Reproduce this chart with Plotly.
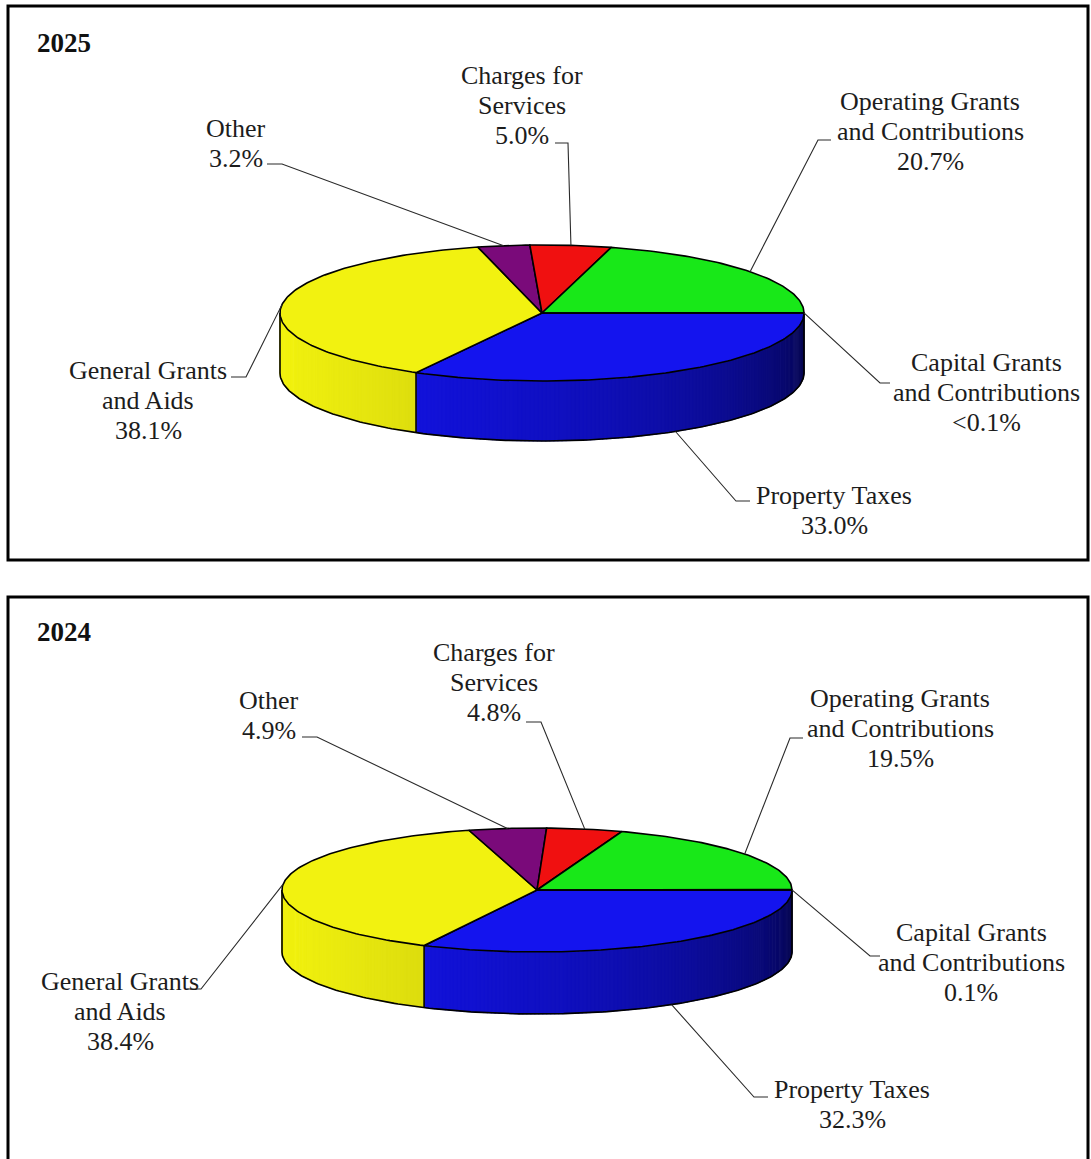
import numpy as np
import plotly.graph_objects as go

# ---- data -------------------------------------------------------------
categories = [
    "Property Taxes",
    "General Grants and Aids",
    "Other",
    "Charges for Services",
    "Operating Grants and Contributions",
    "Capital Grants and Contributions",
]
label_lines = [
    ["Property Taxes"],
    ["General Grants", "and Aids"],
    ["Other"],
    ["Charges for", "Services"],
    ["Operating Grants", "and Contributions"],
    ["Capital Grants", "and Contributions"],
]
values_2025 = [33.0, 38.1, 3.2, 5.0, 20.7, 0.05]
pct_text_2025 = ["33.0%", "38.1%", "3.2%", "5.0%", "20.7%", "<0.1%"]
values_2024 = [32.3, 38.4, 4.9, 4.8, 19.5, 0.1]
pct_text_2024 = ["32.3%", "38.4%", "4.9%", "4.8%", "19.5%", "0.1%"]

slice_colors = [(20, 20, 238), (242, 242, 16), (122, 10, 122),
                (240, 16, 16), (24, 232, 24), (0, 128, 128)]

FONT = "Liberation Serif"
TEXT_COLOR = "#1c1c1c"
LINE_GAP = 30

# ---- layout of the two panels (pixel space) ----------------------------
panels = [
    dict(year="2025", values=values_2025, pcts=pct_text_2025,
         cx=542, cy=313, a=262, b=68, depth=60,
         title=(35, 43), frame=(8, 6, 1088, 560),
         # label centre x, first-line y, tick start, tick elbow
         labels=[
             (834, 495, (750, 501), (736, 501)),
             (148, 370, (231, 377), (246, 377)),
             (236, 128, (267, 164), (282, 164)),
             (522, 75, (555, 143), (568, 143)),
             (930, 101, (831, 140), (818, 140)),
             (986, 362, (890, 383), (880, 383)),
         ]),
    dict(year="2024", values=values_2024, pcts=pct_text_2024,
         cx=537, cy=890, a=255, b=62, depth=62,
         title=(35, 632), frame=(8, 597, 1088, 1165),
         labels=[
             (852, 1089, (768, 1097), (754, 1097)),
             (120, 981, (187, 989), (201, 989)),
             (269, 700, (302, 737), (317, 737)),
             (494, 652, (526, 722), (541, 722)),
             (900, 698, (803, 738), (790, 738)),
             (971, 932, (880, 956), (870, 956)),
         ]),
]


def rgb(c, f=1.0):
    return "rgb(%d,%d,%d)" % tuple(int(max(0, min(255, v * f))) for v in c)


def pt(p, t_deg, drop=0.0):
    t = np.radians(t_deg)
    return p["cx"] + p["a"] * np.cos(t), p["cy"] + p["b"] * np.sin(t) + drop


def side_shade(t_deg):
    u = 1.0 - t_deg / 180.0
    return 0.3 + 0.7 * (1.0 - u * u)


fig = go.Figure()
annotations = []
shapes = []

for p in panels:
    vals = np.array(p["values"], dtype=float)
    edges = np.concatenate([[0.0], np.cumsum(vals)]) / vals.sum() * 360.0
    d = p["depth"]

    # side wall (front half only), shaded by angle
    for i in range(len(vals)):
        lo, hi = max(edges[i], 0.0), min(edges[i + 1], 180.0)
        if hi <= lo:
            continue
        ts = np.linspace(lo, hi, max(2, int((hi - lo) / 0.9) + 2))
        for t1, t2 in zip(ts[:-1], ts[1:]):
            arc = np.linspace(t1, min(t2 + 0.3, hi), 4)
            top = [pt(p, t) for t in arc]
            bot = [pt(p, t, d) for t in arc[::-1]]
            poly = top + bot + [top[0]]
            col = rgb(slice_colors[i], side_shade((t1 + t2) / 2))
            fig.add_trace(go.Scatter(
                x=[q[0] for q in poly], y=[q[1] for q in poly],
                mode="lines", fill="toself", fillcolor=col,
                line=dict(color=col, width=0.5), hoverinfo="skip",
                showlegend=False))

    # side outline: bottom rim and vertical edges
    arc = np.linspace(0, 180, 181)
    rim = [pt(p, t, d) for t in arc]
    fig.add_trace(go.Scatter(x=[q[0] for q in rim], y=[q[1] for q in rim],
                             mode="lines", line=dict(color="black", width=1.6),
                             hoverinfo="skip", showlegend=False))
    vert = [0.0, 180.0] + [e for e in edges if 0 < e < 180]
    for t in vert:
        a0, a1 = pt(p, t), pt(p, t, d)
        fig.add_trace(go.Scatter(x=[a0[0], a1[0]], y=[a0[1], a1[1]],
                                 mode="lines", line=dict(color="black", width=1.6),
                                 hoverinfo="skip", showlegend=False))

    # top face wedges
    for i in range(len(vals)):
        s, e = edges[i], edges[i + 1]
        arc = np.linspace(s, e, max(2, int(e - s) + 2))
        poly = [(p["cx"], p["cy"])] + [pt(p, t) for t in arc] + [(p["cx"], p["cy"])]
        fig.add_trace(go.Scatter(
            x=[q[0] for q in poly], y=[q[1] for q in poly],
            mode="lines", fill="toself", fillcolor=rgb(slice_colors[i]),
            line=dict(color="black", width=1.6), hoverinfo="skip",
            showlegend=False))

    # leader lines and labels
    for i, (lx, ly, t0, t1) in enumerate(p["labels"]):
        m = ((edges[i] + edges[i + 1]) / 2) % 360
        drop = d if np.sin(np.radians(m)) > 0.5 else 0.0
        end = pt(p, m, drop)
        fig.add_trace(go.Scatter(x=[t0[0], t1[0], end[0]], y=[t0[1], t1[1], end[1]],
                                 mode="lines", line=dict(color="#2a2a2a", width=1.1),
                                 hoverinfo="skip", showlegend=False))
        lines = label_lines[i] + [p["pcts"][i]]
        for k, txt in enumerate(lines):
            annotations.append(dict(
                x=lx, y=ly + k * LINE_GAP, xref="x", yref="y", text=txt,
                showarrow=False, xanchor="center", yanchor="middle",
                font=dict(family=FONT, size=26, color=TEXT_COLOR)))

    # panel title and frame
    annotations.append(dict(
        x=p["title"][0], y=p["title"][1], xref="x", yref="y",
        text="<b>%s</b>" % p["year"], showarrow=False,
        xanchor="left", yanchor="middle",
        font=dict(family=FONT, size=27, color="#111111")))
    x0, y0, x1, y1 = p["frame"]
    shapes.append(dict(type="rect", xref="x", yref="y", x0=x0, y0=y0, x1=x1, y1=y1,
                       line=dict(color="black", width=3), fillcolor="rgba(0,0,0,0)",
                       layer="above"))

fig.update_layout(
    width=1091, height=1159,
    margin=dict(l=0, r=0, t=0, b=0),
    paper_bgcolor="white", plot_bgcolor="white",
    xaxis=dict(range=[0, 1091], visible=False, fixedrange=True),
    yaxis=dict(range=[1159, 0], visible=False, fixedrange=True),
    annotations=annotations, shapes=shapes, showlegend=False,
)

fig.write_html("out.html")
